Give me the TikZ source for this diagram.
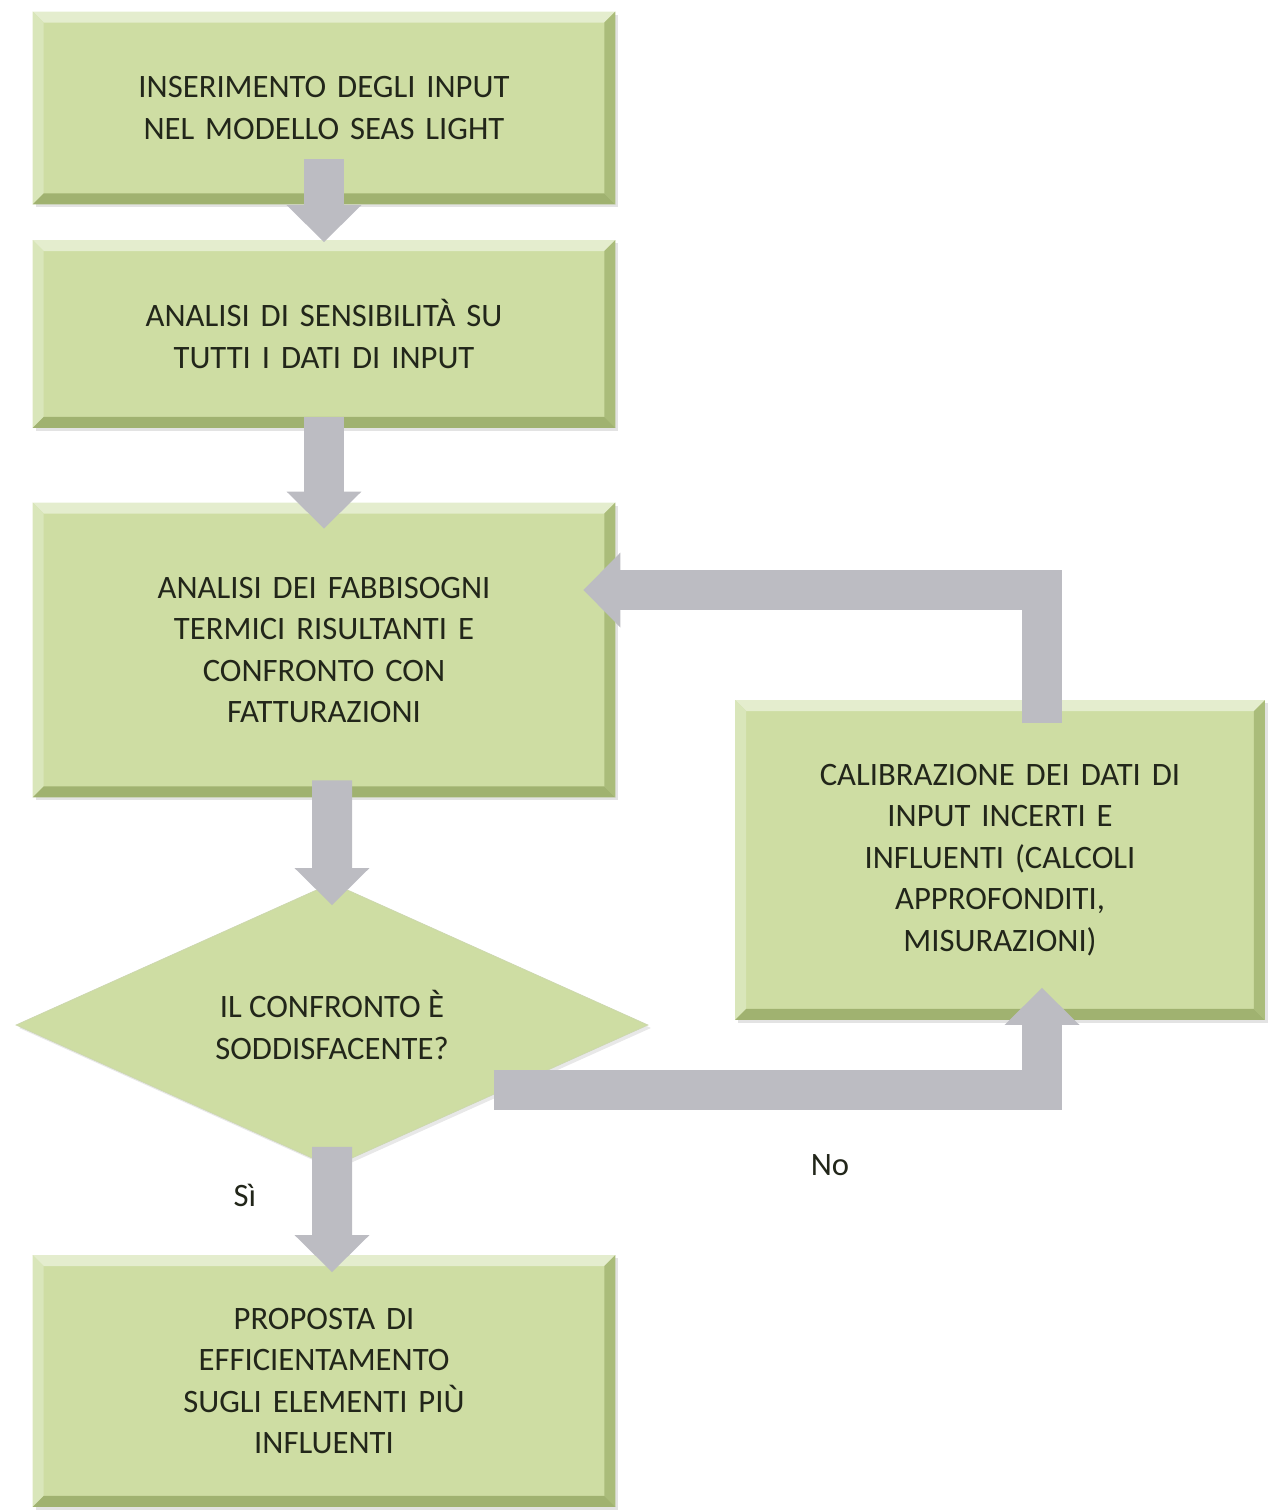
\documentclass[tikz,border=0pt]{standalone}
\usepackage{fontspec}
\setmainfont{Carlito}
\usepackage{xcolor}
\usepackage{tikz}
\usetikzlibrary{shapes.geometric, arrows.meta, shadows}

\definecolor{boxgreen}{RGB}{206,221,163}
\definecolor{bevtop}{RGB}{228,237,206}
\definecolor{bevleft}{RGB}{217,230,186}
\definecolor{bevright}{RGB}{170,188,122}
\definecolor{bevbot}{RGB}{160,178,112}
\definecolor{arrowgray}{RGB}{188,188,194}
\definecolor{textdark}{RGB}{34,38,26}

\newcommand\boxfont{\fontsize{18.6}{23.6}\selectfont}
\newcommand\bevelframe{%
  \fill[bevtop] (path picture bounding box.north west) -- (path picture bounding box.north east)
    -- ([xshift=-0.22cm,yshift=-0.22cm]path picture bounding box.north east)
    -- ([xshift=0.22cm,yshift=-0.22cm]path picture bounding box.north west) -- cycle;
  \fill[bevleft] (path picture bounding box.north west)
    -- ([xshift=0.22cm,yshift=-0.22cm]path picture bounding box.north west)
    -- ([xshift=0.22cm,yshift=0.22cm]path picture bounding box.south west)
    -- (path picture bounding box.south west) -- cycle;
  \fill[bevright] (path picture bounding box.north east) -- (path picture bounding box.south east)
    -- ([xshift=-0.22cm,yshift=0.22cm]path picture bounding box.south east)
    -- ([xshift=-0.22cm,yshift=-0.22cm]path picture bounding box.north east) -- cycle;
  \fill[bevbot] (path picture bounding box.south west)
    -- ([xshift=0.22cm,yshift=0.22cm]path picture bounding box.south west)
    -- ([xshift=-0.22cm,yshift=0.22cm]path picture bounding box.south east)
    -- (path picture bounding box.south east) -- cycle;
}

\tikzset{
  % flowchart boxes
  stepbox/.style={rectangle, minimum width=11.66cm, minimum height=#1, text width=10.4cm, align=center, inner sep=0pt, outer sep=0pt, fill=boxgreen, font=\boxfont, text=textdark, drop shadow={shadow xshift=0.06cm, shadow yshift=-0.06cm, fill=black!22}, path picture={\bevelframe}},
  sidebox/.style={stepbox=#1, minimum width=10.6cm, text width=9.4cm},
  decision/.style={diamond, aspect=2.2, minimum width=12.64cm, minimum height=5.68cm, inner sep=0pt, outer sep=0pt, fill=boxgreen, draw=bevright!60, align=center, font=\boxfont, text=textdark, drop shadow={shadow xshift=0.06cm, shadow yshift=-0.06cm, fill=black!18}},
  % gray block arrows
  blockarrow/.style={draw=arrowgray, line width=0.8cm, line join=miter, line cap=butt, -{Triangle[width=1.5cm, length=0.74cm, line width=0pt]}},
  lbl/.style={font=\boxfont, text=textdark},
}

\begin{document}
\begin{tikzpicture}[x=0.02cm, y=-0.02cm]
  \useasboundingbox (0,0) rectangle (1271,1510);
  % Main column
  \node[stepbox=3.86cm] (inserimento) at (324,108) {INSERIMENTO DEGLI INPUT\\NEL MODELLO SEAS LIGHT};
  \node[stepbox=3.76cm] (sensibilita) at (324,334) {ANALISI DI SENSIBILITÀ SU\\TUTTI I DATI DI INPUT};
  \node[stepbox=5.9cm] (fabbisogni) at (324,650) {ANALISI DEI FABBISOGNI\\TERMICI RISULTANTI E\\CONFRONTO CON\\FATTURAZIONI};
  \node[decision] (confronto) at (332,1025) {IL CONFRONTO È\\SODDISFACENTE?};
  \node[stepbox=5.04cm] (proposta) at (324,1381) {PROPOSTA DI\\EFFICIENTAMENTO\\SUGLI ELEMENTI PIÙ\\INFLUENTI};
  % Calibration loop
  \node[sidebox=6.4cm] (calibrazione) at (1000,860) {CALIBRAZIONE DEI DATI DI\\INPUT INCERTI E\\INFLUENTI (CALCOLI\\APPROFONDITI,\\MISURAZIONI)};
  % Arrows
  \draw[blockarrow] ([yshift=0.9cm]inserimento.south) -- ([yshift=-0.04cm]sensibilita.north);
  \draw[blockarrow] ([yshift=0.22cm]sensibilita.south) -- ([yshift=-0.52cm]fabbisogni.north);
  \draw[blockarrow] ([xshift=0.16cm,yshift=0.34cm]fabbisogni.south) -- ([yshift=-0.44cm]confronto.north);
  \draw[blockarrow] ([yshift=0.4cm]confronto.south) -- ([xshift=0.16cm,yshift=-0.34cm]proposta.north);
  \draw[blockarrow] ([xshift=0.08cm,yshift=0.12cm]confronto.south east) -| ([xshift=0.84cm,yshift=0.64cm]calibrazione.south);
  \draw[blockarrow] ([xshift=0.84cm,yshift=-0.46cm]calibrazione.north) |- ([xshift=-0.64cm,yshift=1.2cm]fabbisogni.east);
  % Labels
  \node[lbl] (si) at (245,1195) {Sì};
  \node[lbl] (no) at (830,1165) {No};
\end{tikzpicture}
\end{document}
